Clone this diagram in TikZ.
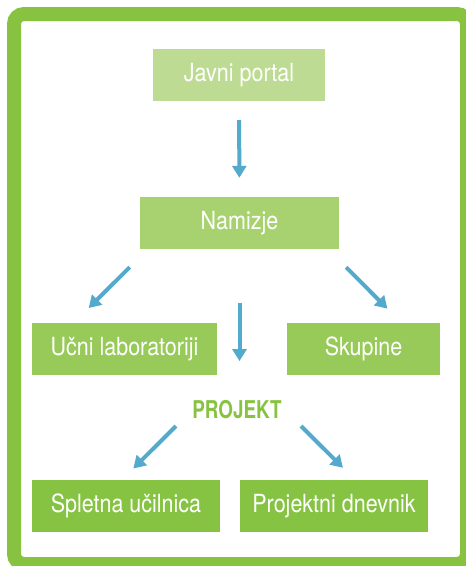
\documentclass[tikz,border=0pt]{standalone}
\usepackage{fontspec}
\setmainfont[FakeStretch=0.86]{TeX Gyre Heros}
\newfontfamily\projfont[FakeStretch=0.77]{TeX Gyre Heros}
\usetikzlibrary{arrows.meta}
\definecolor{framegreen}{RGB}{135,195,65}
\definecolor{boxa}{RGB}{189,219,146}
\definecolor{boxb}{RGB}{168,210,112}
\definecolor{boxc}{RGB}{151,202,88}
\definecolor{boxd}{RGB}{135,195,67}
\definecolor{arrowblue}{RGB}{84,170,204}
\tikzset{
box/.style={draw=none, minimum height=52pt, inner sep=0pt, text=white, font=\fontsize{25}{29}\selectfont}, % green boxes, white text
arr/.style={-{Triangle[width=14pt,length=12pt]}, line width=4pt, draw=arrowblue}, % blue arrows
}

\begin{document}
\begin{tikzpicture}[x=1pt,y=-1pt]
    \useasboundingbox (0,0) rectangle (466,566);
    \clip (0,0) rectangle (466,566);
    \draw[framegreen, line width=14pt, rounded corners=10pt, fill=white] (14,14) rectangle (467,564);
    \node[box, fill=boxa, minimum width=172pt] at (239,75) (portal) {Javni portal};
    \node[box, fill=boxb, minimum width=199pt] at (239.5,223) (namizje) {Namizje};
    \node[box, fill=boxc, minimum width=185pt] at (124.5,349) (lab) {Učni laboratoriji};
    \node[box, fill=boxc, minimum width=153pt] at (363.5,349) (skupine) {Skupine};
    \node[inner sep=0pt, text=framegreen, font=\projfont\fontsize{24.5}{29}\selectfont\bfseries] at (237,409.5) (projekt) {PROJEKT};
    \node[box, fill=boxd, minimum width=188pt] at (126,506) (ucilnica) {Spletna učilnica};
    \node[box, fill=boxd, minimum width=188pt] at (334,506) (dnevnik) {Projektni dnevnik};
    \draw[arr, shorten <=19pt, shorten >=19pt] (portal) -- (namizje);
    \draw[arr, shorten <=25.5pt, shorten >=21pt] ([xshift=8pt]namizje.south west) -- ([xshift=42pt]lab.north west);
    \draw[arr, shorten <=25.5pt, shorten >=20pt] ([xshift=-11pt]namizje.south east) -- ([xshift=38pt]skupine.north);
    \draw[arr, shorten <=54pt, shorten >=39pt] (namizje.south) -- (namizje.south |- projekt.north);
    \draw[arr, shorten >=16pt] ([shift={(-61,16.5)}]projekt.center) -- ([xshift=-4pt]ucilnica.north);
    \draw[arr, shorten >=17pt] ([shift={(64,16.5)}]projekt.center) -- ([xshift=21pt]dnevnik.north);
\end{tikzpicture}
\end{document}
